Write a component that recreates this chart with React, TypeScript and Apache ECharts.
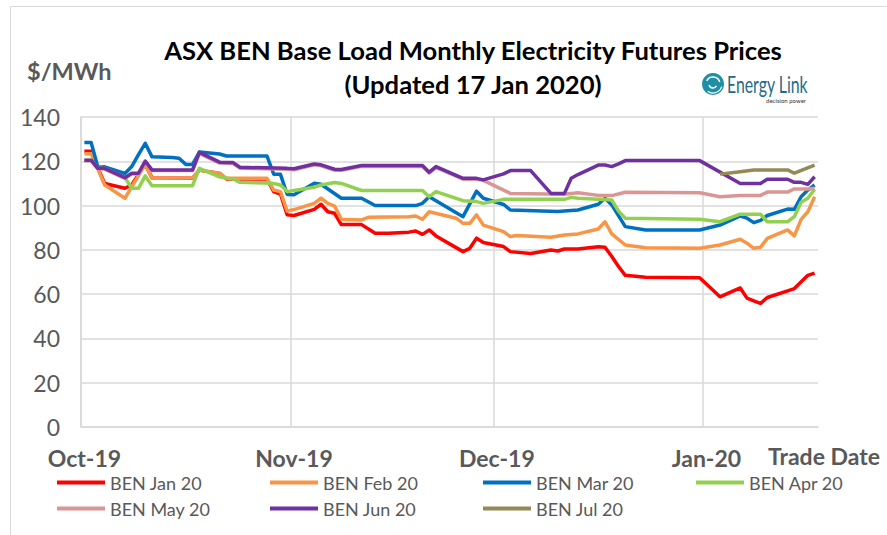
import React, { useEffect, useRef } from "react";
import * as echarts from "echarts";

const FONT = "Lato, 'Open Sans', sans-serif";

// x-axis: every calendar day of the chart's range (MM-DD)
const startDay = Date.UTC(2019, 9, 1);
const endDay = Date.UTC(2020, 0, 17);
const days: string[] = [];
for (let t = startDay; t <= endDay; t += 86400000) {
  days.push(new Date(t).toISOString().slice(5, 10));
}

const tickDays = ["10-01", "11-01", "12-01", "01-01"];
const tickLabels = ["Oct-19", "Nov-19", "Dec-19", "Jan-20"];
const yTicks = [0, 20, 40, 60, 80, 100, 120, 140];

const seriesNames = ["BEN Jan 20", "BEN Feb 20", "BEN Mar 20", "BEN Apr 20", "BEN May 20", "BEN Jun 20", "BEN Jul 20"];
const seriesColors = ["#FF0000", "#F79646", "#0070C0", "#92D050", "#DA9694", "#7030A0", "#948A54"];

const benJan20: [string, number][] = [
  ["10-01", 124.5], ["10-02", 124.5], ["10-03", 117], ["10-04", 110], ["10-07", 107.8], ["10-08", 109.3],
  ["10-09", 114], ["10-10", 118.7], ["10-11", 112.5], ["10-17", 112.3], ["10-18", 116], ["10-21", 114.5],
  ["10-22", 112], ["10-28", 112], ["10-29", 106.3], ["10-30", 105.2], ["10-31", 95.8], ["11-01", 95.5],
  ["11-04", 98.3], ["11-05", 100.6], ["11-06", 97.2], ["11-07", 96.5], ["11-08", 91.4], ["11-11", 91.4],
  ["11-13", 87.5], ["11-15", 87.5], ["11-18", 88], ["11-19", 88.5], ["11-20", 87], ["11-21", 89],
  ["11-22", 86.3], ["11-26", 79.2], ["11-27", 80.7], ["11-28", 85.3], ["11-29", 83.3], ["12-02", 81.5],
  ["12-03", 79.2], ["12-06", 78.4], ["12-09", 79.9], ["12-10", 79.5], ["12-11", 80.4], ["12-13", 80.4],
  ["12-16", 81.4], ["12-17", 81.2], ["12-18", 77], ["12-19", 72.5], ["12-20", 68.5], ["12-23", 67.6],
  ["12-31", 67.4], ["01-03", 58.8], ["01-06", 62.8], ["01-07", 58.2], ["01-08", 57], ["01-09", 55.8],
  ["01-10", 58.5], ["01-13", 61.5], ["01-14", 62.5], ["01-16", 68.5], ["01-17", 69.5],
];

const benFeb20: [string, number][] = [
  ["10-01", 123.4], ["10-02", 123.4], ["10-03", 116.5], ["10-04", 109.3], ["10-07", 103.3], ["10-08", 108.4],
  ["10-09", 113.5], ["10-10", 118.7], ["10-11", 112.3], ["10-17", 112.5], ["10-18", 116], ["10-21", 114.6],
  ["10-22", 112.3], ["10-28", 112.3], ["10-29", 107], ["10-30", 106.3], ["10-31", 97.5], ["11-01", 98.2],
  ["11-04", 101], ["11-05", 103.3], ["11-06", 101], ["11-07", 99.8], ["11-08", 93.8], ["11-11", 93.5],
  ["11-12", 94.7], ["11-18", 95], ["11-19", 95.3], ["11-20", 93.8], ["11-21", 97.2], ["11-25", 94.3],
  ["11-26", 92], ["11-27", 92], ["11-28", 95.8], ["11-29", 91.2], ["12-02", 88.2], ["12-03", 86],
  ["12-04", 86.5], ["12-09", 85.7], ["12-11", 86.7], ["12-13", 87.2], ["12-16", 89.4], ["12-17", 92.7],
  ["12-18", 87.2], ["12-20", 82.2], ["12-23", 81], ["12-31", 80.7], ["01-03", 82.2], ["01-06", 84.8],
  ["01-07", 83], ["01-08", 80.7], ["01-09", 81.2], ["01-10", 85.2], ["01-13", 89], ["01-14", 86.3],
  ["01-15", 93.8], ["01-16", 97.2], ["01-17", 104],
];

const benMar20: [string, number][] = [
  ["10-01", 128.5], ["10-02", 128.5], ["10-03", 117.3], ["10-04", 117.5], ["10-07", 114.5], ["10-08", 117.6],
  ["10-09", 123], ["10-10", 128.1], ["10-11", 122], ["10-14", 121.7], ["10-15", 121.4], ["10-16", 118.6],
  ["10-17", 118.6], ["10-18", 124.2], ["10-21", 123.3], ["10-22", 122.4], ["10-28", 122.4], ["10-29", 114.2],
  ["10-30", 114.1], ["10-31", 105], ["11-01", 104.9], ["11-04", 110.1], ["11-05", 109.6], ["11-08", 103.3],
  ["11-11", 103.3], ["11-13", 100], ["11-19", 100], ["11-20", 101], ["11-21", 104], ["11-26", 95],
  ["11-28", 106.5], ["11-29", 103.3], ["12-02", 100.5], ["12-03", 98], ["12-10", 97.3], ["12-13", 98],
  ["12-16", 100.6], ["12-17", 103.3], ["12-18", 100.3], ["12-20", 90.5], ["12-23", 89], ["12-31", 89],
  ["01-03", 91.2], ["01-06", 95.3], ["01-07", 94.3], ["01-08", 92.3], ["01-09", 93.3], ["01-10", 95.5],
  ["01-13", 98.4], ["01-14", 98.3], ["01-15", 104], ["01-16", 107], ["01-17", 109.3],
];

const benApr20: [string, number][] = [
  ["10-01", 120.5], ["10-02", 120.5], ["10-03", 116.8], ["10-04", 116.8], ["10-07", 112.6], ["10-08", 107.8],
  ["10-09", 107.8], ["10-10", 113.4], ["10-11", 109], ["10-17", 109], ["10-18", 116.8], ["10-21", 113],
  ["10-22", 112.3], ["10-23", 112], ["10-24", 110.5], ["10-28", 110.2], ["10-29", 110], ["10-30", 109.3],
  ["10-31", 106.3], ["11-01", 106.8], ["11-04", 108.3], ["11-05", 109.3], ["11-07", 110.4], ["11-08", 110],
  ["11-11", 106.8], ["11-20", 106.8], ["11-21", 104], ["11-22", 106.3], ["11-26", 102.2], ["11-28", 101.8],
  ["11-29", 101], ["12-02", 102.8], ["12-11", 102.8], ["12-12", 103.7], ["12-13", 103.3], ["12-16", 102.8],
  ["12-18", 102.5], ["12-19", 97.5], ["12-20", 94.3], ["12-31", 93.8], ["01-03", 92.7], ["01-06", 96.1],
  ["01-09", 96.1], ["01-10", 92.7], ["01-13", 92.7], ["01-14", 95], ["01-15", 101.5], ["01-16", 103.3],
  ["01-17", 107.4],
];

const benMay20: [string, number][] = [
  ["10-01", 120.2], ["10-02", 120.2], ["10-03", 116.5], ["10-04", 116.5], ["10-07", 112.3], ["10-08", 114.3],
  ["10-09", 114.3], ["10-10", 119.8], ["10-11", 115.8], ["10-17", 115.8], ["10-18", 123.5], ["10-21", 119.2],
  ["10-23", 119], ["10-24", 116.9], ["10-31", 116.4], ["11-01", 116.2], ["11-04", 118.4], ["11-05", 118],
  ["11-07", 116], ["11-08", 115.9], ["11-11", 117.7], ["11-20", 117.7], ["11-21", 114.7], ["11-22", 117.2],
  ["11-26", 111.9], ["11-28", 111.9], ["11-29", 111.4], ["12-02", 107], ["12-03", 105.5], ["12-11", 105.1],
  ["12-13", 105.8], ["12-16", 104.6], ["12-18", 104.5], ["12-20", 106], ["12-31", 105.8], ["01-03", 104],
  ["01-06", 104.6], ["01-09", 104.6], ["01-10", 106.1], ["01-13", 106.1], ["01-14", 107.5], ["01-16", 107.5],
  ["01-17", 107.8],
];

const benJun20: [string, number][] = [
  ["10-01", 120.5], ["10-02", 120.5], ["10-03", 116.8], ["10-04", 116.8], ["10-07", 112.6], ["10-08", 114.6],
  ["10-09", 114.6], ["10-10", 120.1], ["10-11", 116.1], ["10-17", 116.1], ["10-18", 124], ["10-21", 119.6],
  ["10-23", 119.4], ["10-24", 117.3], ["10-31", 116.8], ["11-01", 116.6], ["11-04", 118.8], ["11-05", 118.4],
  ["11-07", 116.4], ["11-08", 116.3], ["11-11", 118.1], ["11-20", 118.1], ["11-21", 115.1], ["11-22", 117.6],
  ["11-26", 112.3], ["11-28", 112.3], ["11-29", 111.6], ["12-02", 114.3], ["12-03", 115.8], ["12-06", 115.8],
  ["12-09", 105.5], ["12-11", 105.5], ["12-12", 112.3], ["12-13", 114], ["12-16", 118.3], ["12-17", 118.3],
  ["12-18", 117.6], ["12-19", 118.8], ["12-20", 120.3], ["12-31", 120.3], ["01-06", 110], ["01-09", 110],
  ["01-10", 111.9], ["01-13", 111.9], ["01-14", 110.5], ["01-15", 110.5], ["01-16", 109.6], ["01-17", 113],
];

const benJul20: [string, number][] = [
  ["01-03", 114.2], ["01-06", 115.3], ["01-08", 116.1], ["01-13", 116.1], ["01-14", 114.6], ["01-17", 118.3],
];

const seriesData = [benJan20, benFeb20, benMar20, benApr20, benMay20, benJun20, benJul20];

const GRID = "#D9D9D9";
const TEXT = "#595959";

export default function App() {
  const ref = useRef<HTMLDivElement>(null);
  useEffect(() => {
    if (!ref.current) return;
    const chart = echarts.init(ref.current, undefined, { renderer: "svg" });
    chart.setOption({
      animation: false,
      backgroundColor: "#ffffff",
      textStyle: { fontFamily: FONT },
      title: [
        {
          text: "ASX BEN Base Load Monthly Electricity Futures Prices\n(Updated 17 Jan 2020)",
          left: 468,
          top: 28,
          textAlign: "center",
          textStyle: { fontFamily: FONT, fontSize: 25.6, fontWeight: "bold", color: "#000000", lineHeight: 34 },
        },
        {
          text: "$/MWh",
          left: 27,
          top: 59,
          padding: 0,
          textStyle: { fontFamily: FONT, fontSize: 23.5, fontWeight: "bold", color: TEXT },
        },
      ],
      grid: { left: 81, right: 69, top: 117, bottom: 108, containLabel: false },
      legend: {
        data: seriesNames,
        left: 57,
        top: 473,
        width: 860,
        padding: 0,
        itemWidth: 48,
        itemHeight: 4,
        itemGap: 7,
        icon: "rect",
        textStyle: { fontFamily: FONT, fontSize: 18, color: TEXT, width: 153, lineHeight: 19 },
      },
      xAxis: {
        type: "category",
        data: days,
        boundaryGap: true,
        name: "Trade Date",
        nameLocation: "end",
        nameGap: 62,
        nameTextStyle: {
          fontFamily: FONT, fontSize: 23, fontWeight: "bold", color: TEXT,
          align: "right", verticalAlign: "top", padding: [17, 0, 0, 0],
        },
        axisLine: { show: true, lineStyle: { color: GRID, width: 1.5 } },
        axisTick: { show: false },
        splitLine: {
          show: true,
          interval: (_i: number, v: string) => tickDays.includes(v),
          lineStyle: { color: [GRID, GRID, GRID, GRID, "rgba(0,0,0,0)"], width: 1.5 },
        },
        axisLabel: {
          interval: (_i: number, v: string) => tickDays.includes(v),
          formatter: (v: string) => tickLabels[tickDays.indexOf(v)] ?? "",
          fontFamily: FONT, fontSize: 23, fontWeight: "bold", color: TEXT, margin: 19,
        },
      },
      yAxis: {
        type: "value",
        min: yTicks[0],
        max: yTicks[yTicks.length - 1],
        interval: 20,
        axisLine: { show: true, lineStyle: { color: GRID, width: 1.5 } },
        axisTick: { show: false },
        splitLine: { show: true, lineStyle: { color: GRID, width: 1.5 } },
        axisLabel: { fontFamily: FONT, fontSize: 23, color: TEXT, margin: 21 },
      },
      series: seriesNames.map((name, i) => ({
        name,
        type: "line",
        data: seriesData[i],
        symbol: "none",
        smooth: false,
        color: seriesColors[i],
        lineStyle: { width: 3.5, color: seriesColors[i], join: "round" },
      })),
      graphic: [
        {
          type: "rect",
          silent: true,
          shape: { x: 10.5, y: 6.5, width: 900, height: 600 },
          style: { fill: "none", stroke: "#D9D9D9", lineWidth: 1 },
        },
        {
          type: "group",
          left: 702,
          top: 72,
          children: [
            { type: "circle", shape: { cx: 11, cy: 11, r: 11 }, style: { fill: "#1F8FA6" } },
            { type: "arc", shape: { cx: 11, cy: 11, r: 7, startAngle: 3.6, endAngle: 6.0 }, style: { stroke: "#fff", lineWidth: 1.5, fill: "none" } },
            { type: "arc", shape: { cx: 11, cy: 11, r: 4, startAngle: 0.5, endAngle: 2.9 }, style: { stroke: "#fff", lineWidth: 1.5, fill: "none" } },
            { type: "arc", shape: { cx: 11, cy: 11, r: 9, startAngle: 0.3, endAngle: 2.2 }, style: { stroke: "#fff", lineWidth: 1.2, fill: "none" } },
            {
              type: "text",
              x: 25,
              y: 11,
              scaleX: 0.66,
              style: { text: "Energy Link", font: `24px ${FONT}`, fill: "#1E6A88", verticalAlign: "middle" },
            },
            {
              type: "text",
              x: 104,
              y: 27,
              style: { text: "decision power", font: `6px ${FONT}`, fill: "#333333", align: "right", verticalAlign: "middle" },
            },
          ],
        },
      ],
    });
    return () => chart.dispose();
  }, []);
  return <div ref={ref} style={{ position: "fixed", left: 0, top: 0, width: 887, height: 535 }} />;
}
